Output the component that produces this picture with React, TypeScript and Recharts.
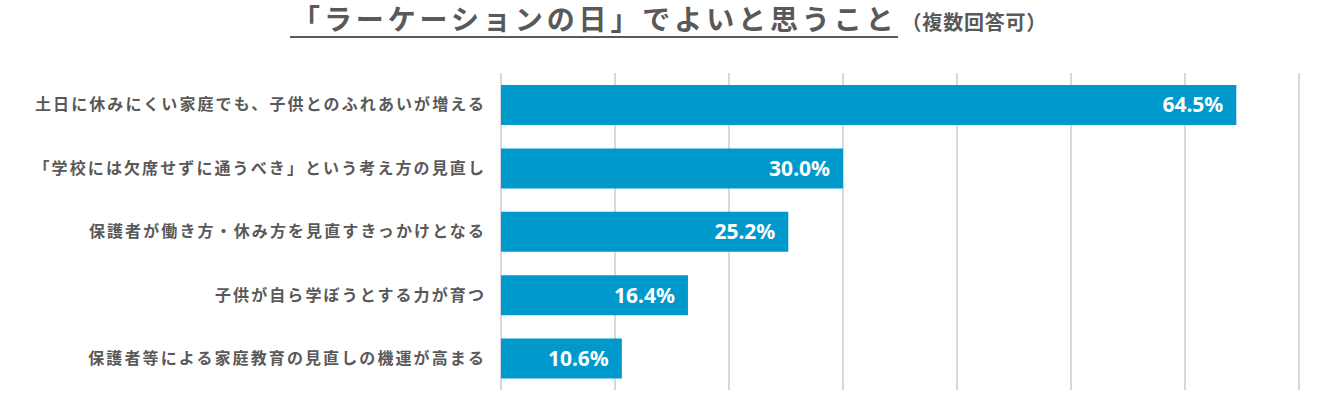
import { Bar, BarChart, CartesianGrid, LabelList, XAxis, YAxis } from 'recharts';

const categories = [
  '土日に休みにくい家庭でも、子供とのふれあいが増える',
  '「学校には欠席せずに通うべき」という考え方の見直し',
  '保護者が働き方・休み方を見直すきっかけとなる',
  '子供が自ら学ぼうとする力が育つ',
  '保護者等による家庭教育の見直しの機運が高まる'
];
const percents = [64.5, 30.0, 25.2, 16.4, 10.6];
const gridTicks = [0, 10, 20, 30, 40, 50, 60, 70];

const data = categories.map((name, i) => ({ name, value: percents[i] }));

const FONT = '"Noto Sans CJK JP", "Noto Sans", sans-serif';
const GRAY = '#595959';

export default function App() {
  return (
    <div
      style={{
        position: 'absolute',
        left: 0,
        top: 0,
        width: 1339,
        height: 396,
        background: '#fff',
        fontFamily: FONT
      }}
    >
      <div
        style={{
          position: 'absolute',
          left: 290,
          top: 0,
          whiteSpace: 'nowrap',
          color: GRAY,
          fontWeight: 700
        }}
      >
        <span
          style={{
            display: 'inline-block',
            fontSize: 28,
            letterSpacing: 3.9,
            lineHeight: '36px',
            borderBottom: `2px solid ${GRAY}`,
            paddingLeft: 2
          }}
        >
          「ラーケーションの日」でよいと思うこと
        </span>
        <span style={{ fontSize: 20, marginLeft: 4, letterSpacing: 0.8 }}>（複数回答可）</span>
      </div>
      <BarChart
        width={1339}
        height={396}
        data={data}
        layout="vertical"
        margin={{ top: 73, right: 40, bottom: 6, left: 0 }}
      >
        <CartesianGrid horizontal={false} stroke="#d9d9d9" strokeWidth={2} />
        <XAxis type="number" domain={[0, 70]} ticks={gridTicks} hide />
        <YAxis
          type="category"
          dataKey="name"
          width={501}
          axisLine={false}
          tickLine={false}
          tickSize={0}
          tickMargin={15}
          tick={{ fill: GRAY, fontSize: 16, fontWeight: 700, letterSpacing: 2.1, fontFamily: FONT }}
          interval={0}
        />
        <Bar dataKey="value" fill="#0099cc" barSize={40} isAnimationActive={false}>
          <LabelList
            dataKey="value"
            position="insideRight"
            offset={13}
            formatter={(v: any) => `${Number(v).toFixed(1)}%`}
            style={{ fill: '#fff', fontSize: 21, fontWeight: 700, fontFamily: '"Noto Sans", sans-serif' }}
          />
        </Bar>
      </BarChart>
    </div>
  );
}
